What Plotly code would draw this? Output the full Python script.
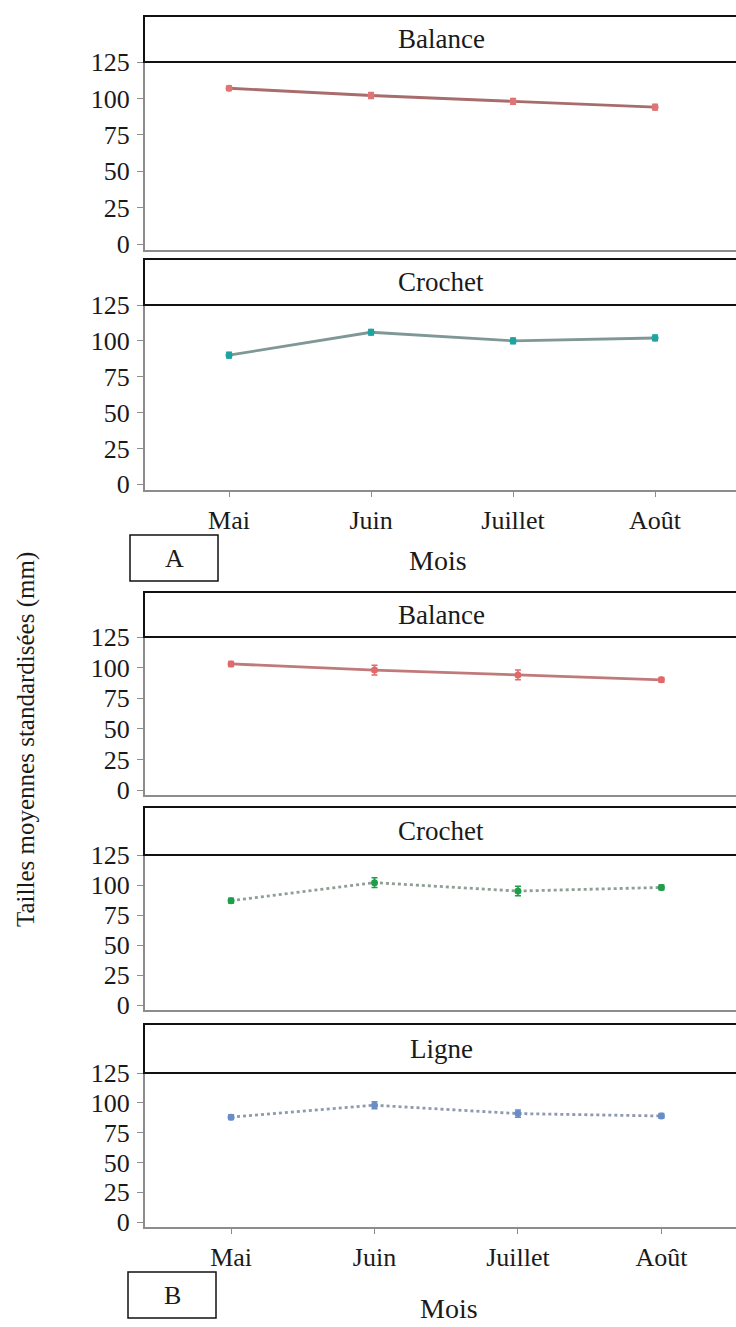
import plotly.graph_objects as go

# ---- data -------------------------------------------------------------
months = ["Mai", "Juin", "Juillet", "Août"]
y_ticks = [0, 25, 50, 75, 100, 125]

# Group A
a_balance = [107, 102, 98, 94]
a_balance_err = [1.5, 2, 2, 2]
a_crochet = [90, 106, 100, 102]
a_crochet_err = [2, 2, 2, 2]

# Group B
b_balance = [103, 98, 94, 90]
b_balance_err = [2, 4, 4, 2]
b_crochet = [87, 102, 95, 98]
b_crochet_err = [2, 4, 4, 2]
b_ligne = [88, 98, 91, 89]
b_ligne_err = [2, 3, 3, 2]

# ---- layout constants -------------------------------------------------
W, H = 736, 1327
FONT = "Liberation Serif"
AXIS_GREY = "#8c8c8c"
TXT = "#1a1a1a"

def px_x(p):
    return p / W

def px_y(p):
    return 1 - p / H

# panel: (name, values, errors, marker colour, line colour, dash,
#         strip top px, plot top px, plot bottom px, x range, show x labels)
panels = [
    ("Balance", a_balance, a_balance_err, "#e07474", "#a86c6c", "solid",
     16, 62, 250, [-0.592, 3.57], False),
    ("Crochet", a_crochet, a_crochet_err, "#1fa3a0", "#7f9896", "solid",
     259, 305, 490, [-0.592, 3.57], True),
    ("Balance", b_balance, b_balance_err, "#e06a6a", "#c07a7a", "solid",
     592, 637, 795, [-0.60, 3.52], False),
    ("Crochet", b_crochet, b_crochet_err, "#1e9e4a", "#8f9f94", "dot",
     807, 855, 1010, [-0.60, 3.52], False),
    ("Ligne", b_ligne, b_ligne_err, "#6a8cc8", "#8e9ab0", "dot",
     1024, 1073, 1227, [-0.60, 3.52], True),
]

PLOT_LEFT = 145

fig = go.Figure()
shapes = []
annotations = []
layout_axes = {}

for i, (name, vals, errs, mcol, lcol, dash, s_top, p_top, p_bot, xr, show_x) in enumerate(panels, start=1):
    xa = "x" if i == 1 else f"x{i}"
    ya = "y" if i == 1 else f"y{i}"
    fig.add_trace(go.Scatter(
        x=months, y=vals, xaxis=xa, yaxis=ya, mode="lines+markers",
        line=dict(color=lcol, width=2.8, dash=dash),
        marker=dict(color=mcol, size=7, symbol="circle"),
        error_y=dict(type="data", array=errs, visible=True, color=mcol,
                     thickness=1.5, width=3),
        showlegend=False, name=name,
    ))
    layout_axes["xaxis" if i == 1 else f"xaxis{i}"] = dict(
        domain=[px_x(PLOT_LEFT), 1.0], anchor=ya, type="category",
        categoryorder="array", categoryarray=months, range=xr,
        showline=True, linecolor=AXIS_GREY, linewidth=2, mirror=False,
        showgrid=False, zeroline=False, automargin=False,
        ticks="outside" if show_x else "", ticklen=5, tickcolor=AXIS_GREY,
        showticklabels=show_x, ticklabelstandoff=1,
        tickfont=dict(family=FONT, size=26, color=TXT),
    )
    layout_axes["yaxis" if i == 1 else f"yaxis{i}"] = dict(
        domain=[px_y(p_bot), px_y(p_top)], anchor=xa,
        range=[-4, 125], tickvals=y_ticks, ticktext=[str(t) for t in y_ticks],
        showline=True, linecolor=AXIS_GREY, linewidth=2,
        showgrid=False, zeroline=False, automargin=False,
        ticks="outside", ticklen=6, tickcolor=AXIS_GREY,
        tickfont=dict(family=FONT, size=26, color=TXT),
        ticklabelstandoff=2,
    )
    # facet strip
    shapes.append(dict(type="rect", xref="paper", yref="paper",
                       x0=px_x(PLOT_LEFT - 1), x1=1.02,
                       y0=px_y(p_top), y1=px_y(s_top),
                       line=dict(color="#111111", width=2), fillcolor="white",
                       layer="above"))
    annotations.append(dict(text=name, xref="paper", yref="paper",
                            x=px_x(441), y=px_y((s_top + p_top) / 2),
                            xanchor="center", yanchor="middle", showarrow=False,
                            font=dict(family=FONT, size=27, color=TXT)))

# group labels and x titles
for label, (bx0, by0, bx1, by1), (mx, my) in [
    ("A", (130, 535, 218, 581), (438, 561)),
    ("B", (128, 1272, 216, 1318), (449, 1308)),
]:
    shapes.append(dict(type="rect", xref="paper", yref="paper",
                       x0=px_x(bx0), x1=px_x(bx1), y0=px_y(by1), y1=px_y(by0),
                       line=dict(color="#111111", width=1.5), fillcolor="white"))
    annotations.append(dict(text=label, xref="paper", yref="paper",
                            x=px_x((bx0 + bx1) / 2), y=px_y((by0 + by1) / 2),
                            xanchor="center", yanchor="middle", showarrow=False,
                            font=dict(family=FONT, size=26, color=TXT)))
    annotations.append(dict(text="Mois", xref="paper", yref="paper",
                            x=px_x(mx), y=px_y(my),
                            xanchor="center", yanchor="middle", showarrow=False,
                            font=dict(family=FONT, size=28, color=TXT)))

# shared y title
annotations.append(dict(text="Tailles moyennes standardisées (mm)",
                        xref="paper", yref="paper", x=px_x(26), y=px_y(740),
                        xanchor="center", yanchor="middle", textangle=-90,
                        showarrow=False,
                        font=dict(family=FONT, size=25, color=TXT)))

fig.update_layout(
    template="none",
    width=W, height=H, autosize=False,
    margin=dict(l=0, r=0, t=0, b=0, pad=0, autoexpand=False),
    paper_bgcolor="white", plot_bgcolor="white",
    shapes=shapes, annotations=annotations, **layout_axes,
)

fig.write_html("out.html")
